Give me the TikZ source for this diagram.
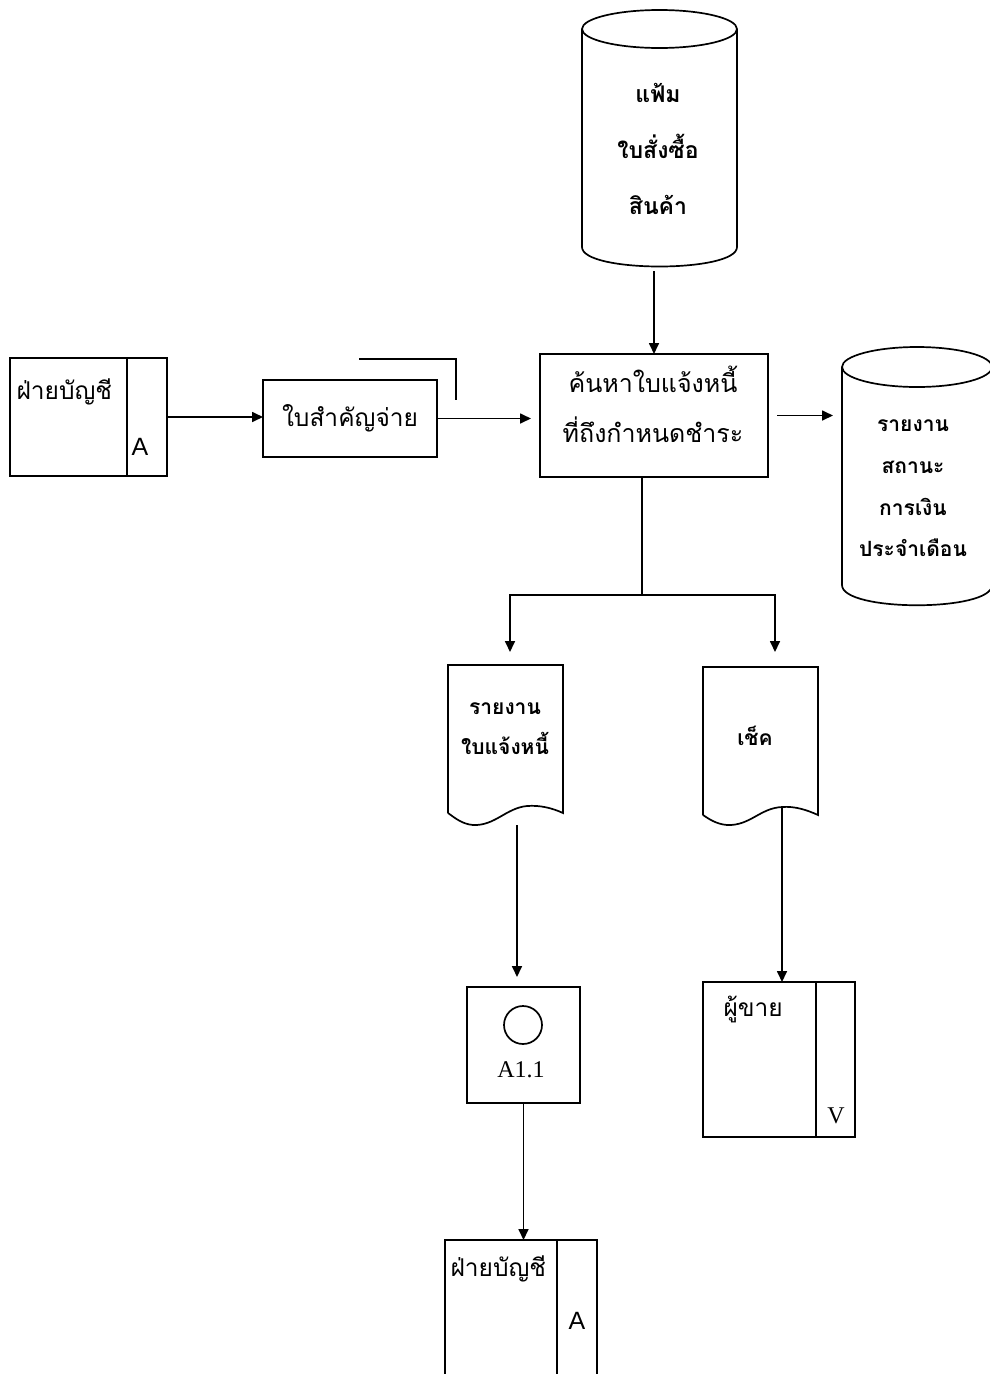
\documentclass[tikz,border=0pt]{standalone}
\usepackage{fontspec}
\setmainfont[Script=Thai]{Loma}
\newfontfamily\latinsans{Liberation Sans}
\newfontfamily\latinserif{Liberation Serif}
\usetikzlibrary{arrows.meta}
\begin{document}
\begin{tikzpicture}[x=1pt,y=-1pt,
  line/.style={line width=1.7pt, line join=miter},
  flow/.style={line, -{Triangle[length=11pt,width=10pt]}},
  area/.style={inner sep=0pt, outer sep=0pt},
  framed/.style={area, draw, line width=1.7pt},
  big/.style={font=\fontsize{24.5}{30}\selectfont},
  small/.style={font=\bfseries\fontsize{21}{24}\selectfont, align=center},
  tagsans/.style={font=\latinsans\fontsize{25}{28}\selectfont},
  tagserif/.style={font=\latinserif\fontsize{24}{28}\selectfont},
]
\useasboundingbox (0,0) rectangle (990,1374);
\clip (0,0) rectangle (990,1374);
\fill[white] (0,0) rectangle (990,1374);

% ---- purchase order file (top)
\node[area, minimum width=155pt, minimum height=218pt] (file) at (659.5,138) {};
\draw[line] (file.north west) -- (file.south west)
  .. controls +(0,26) and +(0,26) .. (file.south east) -- (file.north east);
\draw[line] (file.north) ellipse [x radius=77.5pt, y radius=19pt];
\node[small, font=\bfseries\fontsize{23}{56}\selectfont] (filetxt) at (658,149)
  {แฟ้ม\\ใบสั่งซื้อ\\สินค้า};

% ---- main process
\node[framed, minimum width=228pt, minimum height=123pt] (proc) at (654,415.5) {};
\node[align=center, font=\fontsize{25}{50}\selectfont] (proctxt) at (653,404)
  {ค้นหาใบแจ้งหนี้\\ที่ถึงกำหนดชำระ};

% ---- accounting department (left)
\node[framed, minimum width=117pt, minimum height=118pt, anchor=north west] (acct1) at (10,358) {};
\node[framed, minimum width=40pt, minimum height=118pt, anchor=north west] (acct1tab) at (acct1.north east) {};
\node[big, anchor=west] (acct1lbl) at (13,392) {ฝ่ายบัญชี};
\node[tagsans] (acct1tag) at (140,447) {A};

% ---- payment voucher
\node[framed, minimum width=174pt, minimum height=77pt, big] (slip) at (350,418.5) {ใบสำคัญจ่าย};
\draw[line] (slip.north east) ++(-78,-21) -- ++(97,0) -- ++(0,41);

% ---- monthly financial report (right)
\node[area, minimum width=150pt, minimum height=218pt] (stat) at (917,476) {};
\draw[line] (stat.north west) -- (stat.south west)
  .. controls +(0,27) and +(0,27) .. (stat.south east) -- (stat.north east);
\draw[line] (stat.north) ellipse [x radius=75pt, y radius=20pt];
\node[small, font=\bfseries\fontsize{21}{41.7}\selectfont] (stattxt) at (913,488.5)
  {รายงาน\\สถานะ\\การเงิน\\ประจำเดือน};

% ---- invoice report document
\node[area, minimum width=115pt, minimum height=148pt] (doc1) at (505.5,739) {};
\draw[line] (doc1.south west) -- (doc1.north west) -- (doc1.north east) -- (doc1.south east)
  .. controls (552,808) and (540,805) .. (527,806)
  .. controls (506,808) and (495,826) .. (473,825)
  .. controls (462,824) and (455,818) .. (doc1.south west);
\node[small, font=\bfseries\fontsize{21}{40}\selectfont] (doc1txt) at (505,729)
  {รายงาน\\ใบแจ้งหนี้};

% ---- cheque document
\node[area, minimum width=115pt, minimum height=148pt] (doc2) at (760.5,741) {};
\draw[line] (doc2.south west) -- (doc2.north west) -- (doc2.north east) -- (doc2.south east)
  .. controls (807,810) and (795,806) .. (782,807)
  .. controls (760,808) and (750,826) .. (727,825)
  .. controls (716,824) and (709,819) .. (doc2.south west);
\node[small] (doc2txt) at (755,736) {เช็ค};

\coordinate (d1out) at (517,825);
\coordinate (d2out) at (782,807);

% ---- filed invoice report
\node[framed, minimum width=113pt, minimum height=116pt] (circ) at (523.5,1045) {};
\node[draw, line width=1.7pt, circle, minimum size=38pt, inner sep=0pt] (circmark) at (523,1025) {};
\node[tagserif] (circlbl) at (521,1070) {A1.1};

% ---- vendor
\node[framed, minimum width=113pt, minimum height=155pt, anchor=north west] (vendor) at (703,982) {};
\node[framed, minimum width=39pt, minimum height=155pt, anchor=north west] (vendortab) at (vendor.north east) {};
\node[big, anchor=west] (vendorlbl) at (720,1009) {ผู้ขาย};
\node[tagserif] (vendortag) at (836,1116) {V};

% ---- accounting department (bottom)
\node[framed, minimum width=112pt, minimum height=170pt, anchor=north west] (acct2) at (445,1240) {};
\node[framed, minimum width=40pt, minimum height=170pt, anchor=north west] (acct2tab) at (acct2.north east) {};
\node[big, anchor=west] (acct2lbl) at (447,1269) {ฝ่ายบัญชี};
\node[tagsans] (acct2tag) at (577,1321) {A};

% ---- connectors
\coordinate (split) at (642,595);
\coordinate (splitL) at (510,595);
\coordinate (splitR) at (775,595);
\draw[flow, shorten <=24pt] (proc.north |- file.south) -- (proc.north);
\draw[flow] (acct1tab.east) -- (acct1tab.east -| slip.west);
\draw[flow, shorten >=9pt] (slip.east) -- (slip.east -| proc.west);
\draw[flow, shorten <=9pt, shorten >=9pt] (proc.east) -- (proc.east -| stat.west);
\draw[flow, shorten >=13pt] (proc.south -| split) -- (split) -| (doc1.north -| splitL);
\draw[flow, shorten >=15pt] (split) -| (doc2.north -| splitR);
\draw[flow, shorten >=10pt] (d1out) -- (d1out |- circ.north);
\draw[flow] (d2out) -- (d2out |- vendor.north);
\draw[flow] (circ.south) -- (circ.south |- acct2.north);
\end{tikzpicture}
\end{document}
